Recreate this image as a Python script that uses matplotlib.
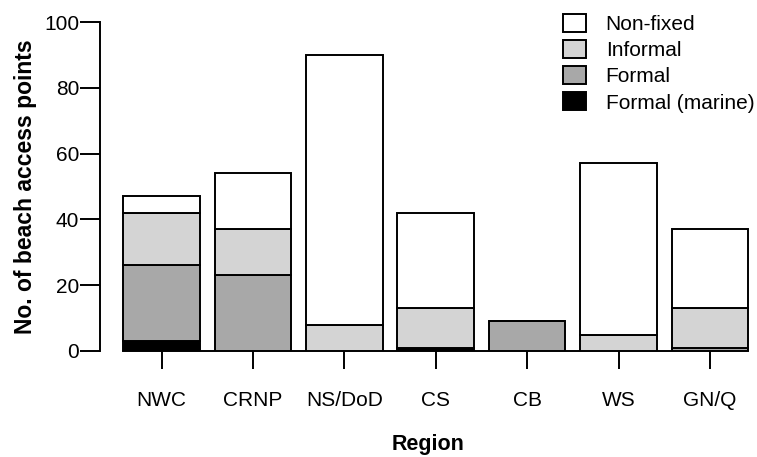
import numpy as np
import matplotlib
matplotlib.use("Agg")
import matplotlib.pyplot as plt

plt.rcParams['font.family'] = ['Liberation Sans', 'DejaVu Sans']

regions = ['NWC', 'CRNP', 'NS/DoD', 'CS', 'CB', 'WS', 'GN/Q']
formal_marine = [3, 0, 0, 1, 0, 0, 0]
formal = [23, 23, 0, 0, 9, 0, 1]
informal = [16, 14, 8, 12, 0, 5, 12]
non_fixed = [5, 17, 82, 29, 0, 52, 24]

series = [('Formal (marine)', formal_marine, 'black'),
          ('Formal', formal, '#a8a8a8'),
          ('Informal', informal, '#d4d4d4'),
          ('Non-fixed', non_fixed, 'white')]

fig = plt.figure(figsize=(7.57, 4.57), dpi=100)
ax = fig.add_axes([100/757, 106/457, 655.6/757, 329/457])

x = np.arange(len(regions))
bottom = np.zeros(len(regions))
handles = []
for name, vals, col in series:
    b = ax.bar(x, vals, width=0.84, bottom=bottom, color=col, edgecolor='black',
               linewidth=1.4, label=name, zorder=3)
    handles.append(b)
    bottom += np.array(vals)

ax.set_xlim(-0.673, 6.5)
ax.set_ylim(0, 100)
ax.spines['top'].set_visible(False)
ax.spines['right'].set_visible(False)
ax.spines['left'].set_bounds(0, 100)
ax.spines['bottom'].set_bounds(-0.42, 6.42)
for s in ['left', 'bottom']:
    ax.spines[s].set_linewidth(1.4)

ax.set_xticks(x)
ax.set_xticklabels(regions)
ax.set_yticks([0, 20, 40, 60, 80, 100])
ax.tick_params(axis='x', length=12.7, width=1.4, pad=16, labelsize=15)
ax.tick_params(axis='y', length=14.4, width=1.4, pad=0.5, labelsize=15)

ax.set_xlabel('Region', fontsize=15.5, fontweight='bold', labelpad=17.5)
ax.set_ylabel('No. of beach access points', fontsize=16.5, fontweight='bold', labelpad=5)

leg = ax.legend(handles[::-1], [s[0] for s in series][::-1], loc='upper right',
                bbox_to_anchor=(0.998, 1.024), frameon=False, fontsize=15,
                handlelength=1.08, handleheight=0.94, handletextpad=0.96,
                labelspacing=0.29, borderaxespad=0, borderpad=0)

fig.savefig('out.png', dpi=100)
